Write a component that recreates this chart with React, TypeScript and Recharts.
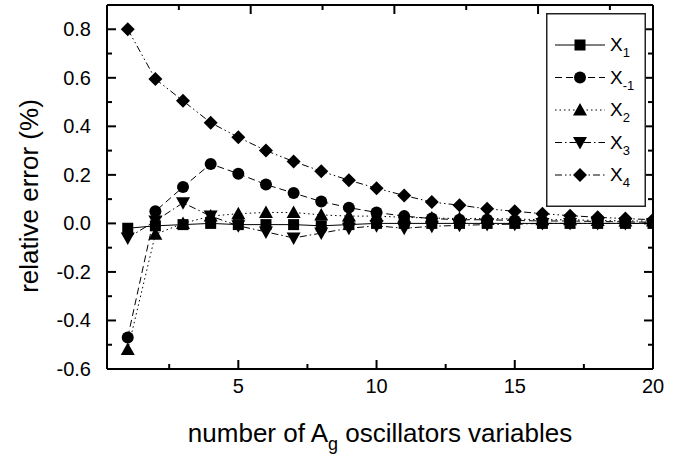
import React from "react";
import { LineChart, Line, XAxis, YAxis, Legend, Label } from "recharts";

const xs = [1, 2, 3, 4, 5, 6, 7, 8, 9, 10, 11, 12, 13, 14, 15, 16, 17, 18, 19, 20];
const x1 = [-0.02, -0.01, -0.005, 0.0, -0.005, -0.005, -0.005, -0.01, -0.005, 0, 0, 0, 0, 0, 0, 0, 0, 0, 0, 0];
const xm1 = [-0.47, 0.05, 0.15, 0.245, 0.205, 0.16, 0.125, 0.09, 0.065, 0.045, 0.03, 0.02, 0.015, 0.015, 0.012, 0.01, 0.01, 0.008, 0.006, 0.005];
const x2 = [-0.52, -0.045, 0.0, 0.03, 0.04, 0.045, 0.045, 0.035, 0.03, 0.03, 0.025, 0.022, 0.02, 0.02, 0.018, 0.015, 0.015, 0.012, 0.01, 0.01];
const x3 = [-0.06, 0.01, 0.085, 0.03, -0.01, -0.035, -0.06, -0.04, -0.02, -0.01, -0.02, -0.012, -0.008, -0.005, -0.003, 0, 0, 0, 0, 0];
const x4 = [0.8, 0.595, 0.505, 0.415, 0.355, 0.3, 0.255, 0.215, 0.178, 0.145, 0.115, 0.088, 0.075, 0.06, 0.05, 0.04, 0.032, 0.025, 0.02, 0.015];

const xTicks = [2.5, 5, 7.5, 10, 12.5, 15, 17.5];
const yTicks = [-0.6, -0.5, -0.4, -0.3, -0.2, -0.1, 0, 0.1, 0.2, 0.3, 0.4, 0.5, 0.6, 0.7, 0.8];

const data = xs.map((n, i) => ({ n, a: x1[i], b: xm1[i], c: x2[i], d: x3[i], e: x4[i] }));

const series = [
  { key: "a", sub: "1", shape: "square", dash: undefined },
  { key: "b", sub: "-1", shape: "circle", dash: "7 4" },
  { key: "c", sub: "2", shape: "up", dash: "1.5 3" },
  { key: "d", sub: "3", shape: "down", dash: "7 3 1.5 3" },
  { key: "e", sub: "4", shape: "diamond", dash: "7 3 1.5 3 1.5 3" },
];

const FONT = "'Liberation Sans', Arial, sans-serif";

function Marker({ shape, cx, cy }: { shape: string; cx: number; cy: number }) {
  if (cx == null || cy == null) return null;
  if (shape === "square") return <rect x={cx - 5.5} y={cy - 5.5} width={11} height={11} fill="#000" />;
  if (shape === "circle") return <circle cx={cx} cy={cy} r={6} fill="#000" />;
  if (shape === "up") return <path d={`M${cx},${cy - 7}L${cx + 7},${cy + 5.5}L${cx - 7},${cy + 5.5}Z`} fill="#000" />;
  if (shape === "down") return <path d={`M${cx},${cy + 7}L${cx + 7},${cy - 5.5}L${cx - 7},${cy - 5.5}Z`} fill="#000" />;
  return <path d={`M${cx},${cy - 7}L${cx + 7},${cy}L${cx},${cy + 7}L${cx - 7},${cy}Z`} fill="#000" />;
}

const isMajorY = (v: number) => Math.round(v * 10) % 2 === 0;
const isMajorX = (v: number) => v % 5 === 0;

function LeftTick({ x, y, payload }: any) {
  const v = payload.value;
  const major = isMajorY(v);
  return (
    <g>
      <line x1={x} x2={x + (major ? 9 : 5)} y1={y} y2={y} stroke="#000" strokeWidth={2} />
      {major && (
        <text x={x - 16} y={y + 7} textAnchor="end" fontSize={20} fontFamily={FONT} fill="#000">
          {v.toFixed(1)}
        </text>
      )}
    </g>
  );
}

function RightTick({ x, y, payload }: any) {
  const major = isMajorY(payload.value);
  return <line x1={x} x2={x - (major ? 9 : 5)} y1={y} y2={y} stroke="#000" strokeWidth={2} />;
}

function BottomTick({ x, y, payload }: any) {
  const v = payload.value;
  const major = isMajorX(v);
  return (
    <g>
      <line x1={x} x2={x} y1={y} y2={y - (major ? 9 : 5)} stroke="#000" strokeWidth={2} />
      {major && (
        <text x={x} y={y + 24} textAnchor="middle" fontSize={20} fontFamily={FONT} fill="#000">
          {v}
        </text>
      )}
    </g>
  );
}

function TopTick({ x, y, payload }: any) {
  const major = isMajorX(payload.value);
  return <line x1={x} x2={x} y1={y} y2={y + (major ? 9 : 5)} stroke="#000" strokeWidth={2} />;
}

function LegendBox() {
  return (
    <svg width={100} height={194} style={{ display: "block" }}>
      <rect x={0.75} y={0.75} width={98.5} height={192.5} fill="#fff" stroke="#222" strokeWidth={1.5} />
      {series.map((s, i) => {
        const y = 32 + i * 32.5;
        return (
          <g key={s.key}>
            <line x1={9} x2={59} y1={y} y2={y} stroke="#000" strokeWidth={1} strokeDasharray={s.dash} />
            <Marker shape={s.shape} cx={34} cy={y} />
            <text x={64} y={y + 6} fontSize={19} fontFamily={FONT} fill="#000">
              X<tspan fontSize={13} dy={6}>{s.sub}</tspan>
            </text>
          </g>
        );
      })}
    </svg>
  );
}

function XTitle({ viewBox }: any) {
  const cx = viewBox.x + viewBox.width / 2;
  return (
    <text x={cx} y={442} textAnchor="middle" fontSize={26} fontFamily={FONT} fill="#000">
      number of A<tspan fontSize={18} dy={8}>g</tspan>
      <tspan dy={-8}> oscillators variables</tspan>
    </text>
  );
}

function YTitle() {
  return (
    <text
      x={38}
      y={196}
      transform="rotate(-90 38 196)"
      textAnchor="middle"
      fontSize={26}
      fontFamily={FONT}
      fill="#000"
    >
      relative error (%)
    </text>
  );
}

export default function App() {
  return (
    <div style={{ position: "absolute", left: 0, top: 0, background: "#fff" }}>
      <LineChart width={694} height={460} data={data} margin={{ top: 0, right: 0, bottom: 0, left: 0 }}>
        <XAxis
          dataKey="n"
          type="number"
          domain={[0.25, 20]}
          allowDataOverflow
          ticks={[...xTicks, 20]}
          interval={0}
          height={91}
          tickSize={0}
          tickMargin={0}
          tick={<BottomTick />}
          axisLine={{ stroke: "#000", strokeWidth: 2 }}
        >
          <Label content={<XTitle />} />
        </XAxis>
        <XAxis
          xAxisId="top"
          orientation="top"
          type="number"
          domain={[0.25, 20]}
          allowDataOverflow
          ticks={xTicks}
          interval={0}
          height={5}
          tickSize={0}
          tickMargin={0}
          tick={<TopTick />}
          axisLine={{ stroke: "#000", strokeWidth: 2 }}
        />
        <YAxis
          type="number"
          domain={[-0.6, 0.9]}
          allowDataOverflow
          ticks={yTicks}
          interval={0}
          width={107}
          tickSize={0}
          tickMargin={0}
          tick={<LeftTick />}
          axisLine={{ stroke: "#000", strokeWidth: 2 }}
        >
          <Label content={<YTitle />} />
        </YAxis>
        <YAxis
          yAxisId="right"
          orientation="right"
          type="number"
          domain={[-0.6, 0.9]}
          allowDataOverflow
          ticks={yTicks}
          interval={0}
          width={41}
          tickSize={0}
          tickMargin={0}
          tick={<RightTick />}
          axisLine={{ stroke: "#000", strokeWidth: 2 }}
        />
        <Legend
          layout="vertical"
          align="center"
          verticalAlign="middle"
          wrapperStyle={{ left: 546, top: 13, width: 100 }}
          content={() => <LegendBox />}
        />
        {series.map((s) => (
          <Line
            key={s.key}
            dataKey={s.key}
            stroke="#000"
            strokeWidth={1}
            strokeDasharray={s.dash}
            dot={(p: any) => <Marker key={`${s.key}-${p.index}`} shape={s.shape} cx={p.cx} cy={p.cy} />}
            activeDot={false}
            isAnimationActive={false}
          />
        ))}
      </LineChart>
    </div>
  );
}
